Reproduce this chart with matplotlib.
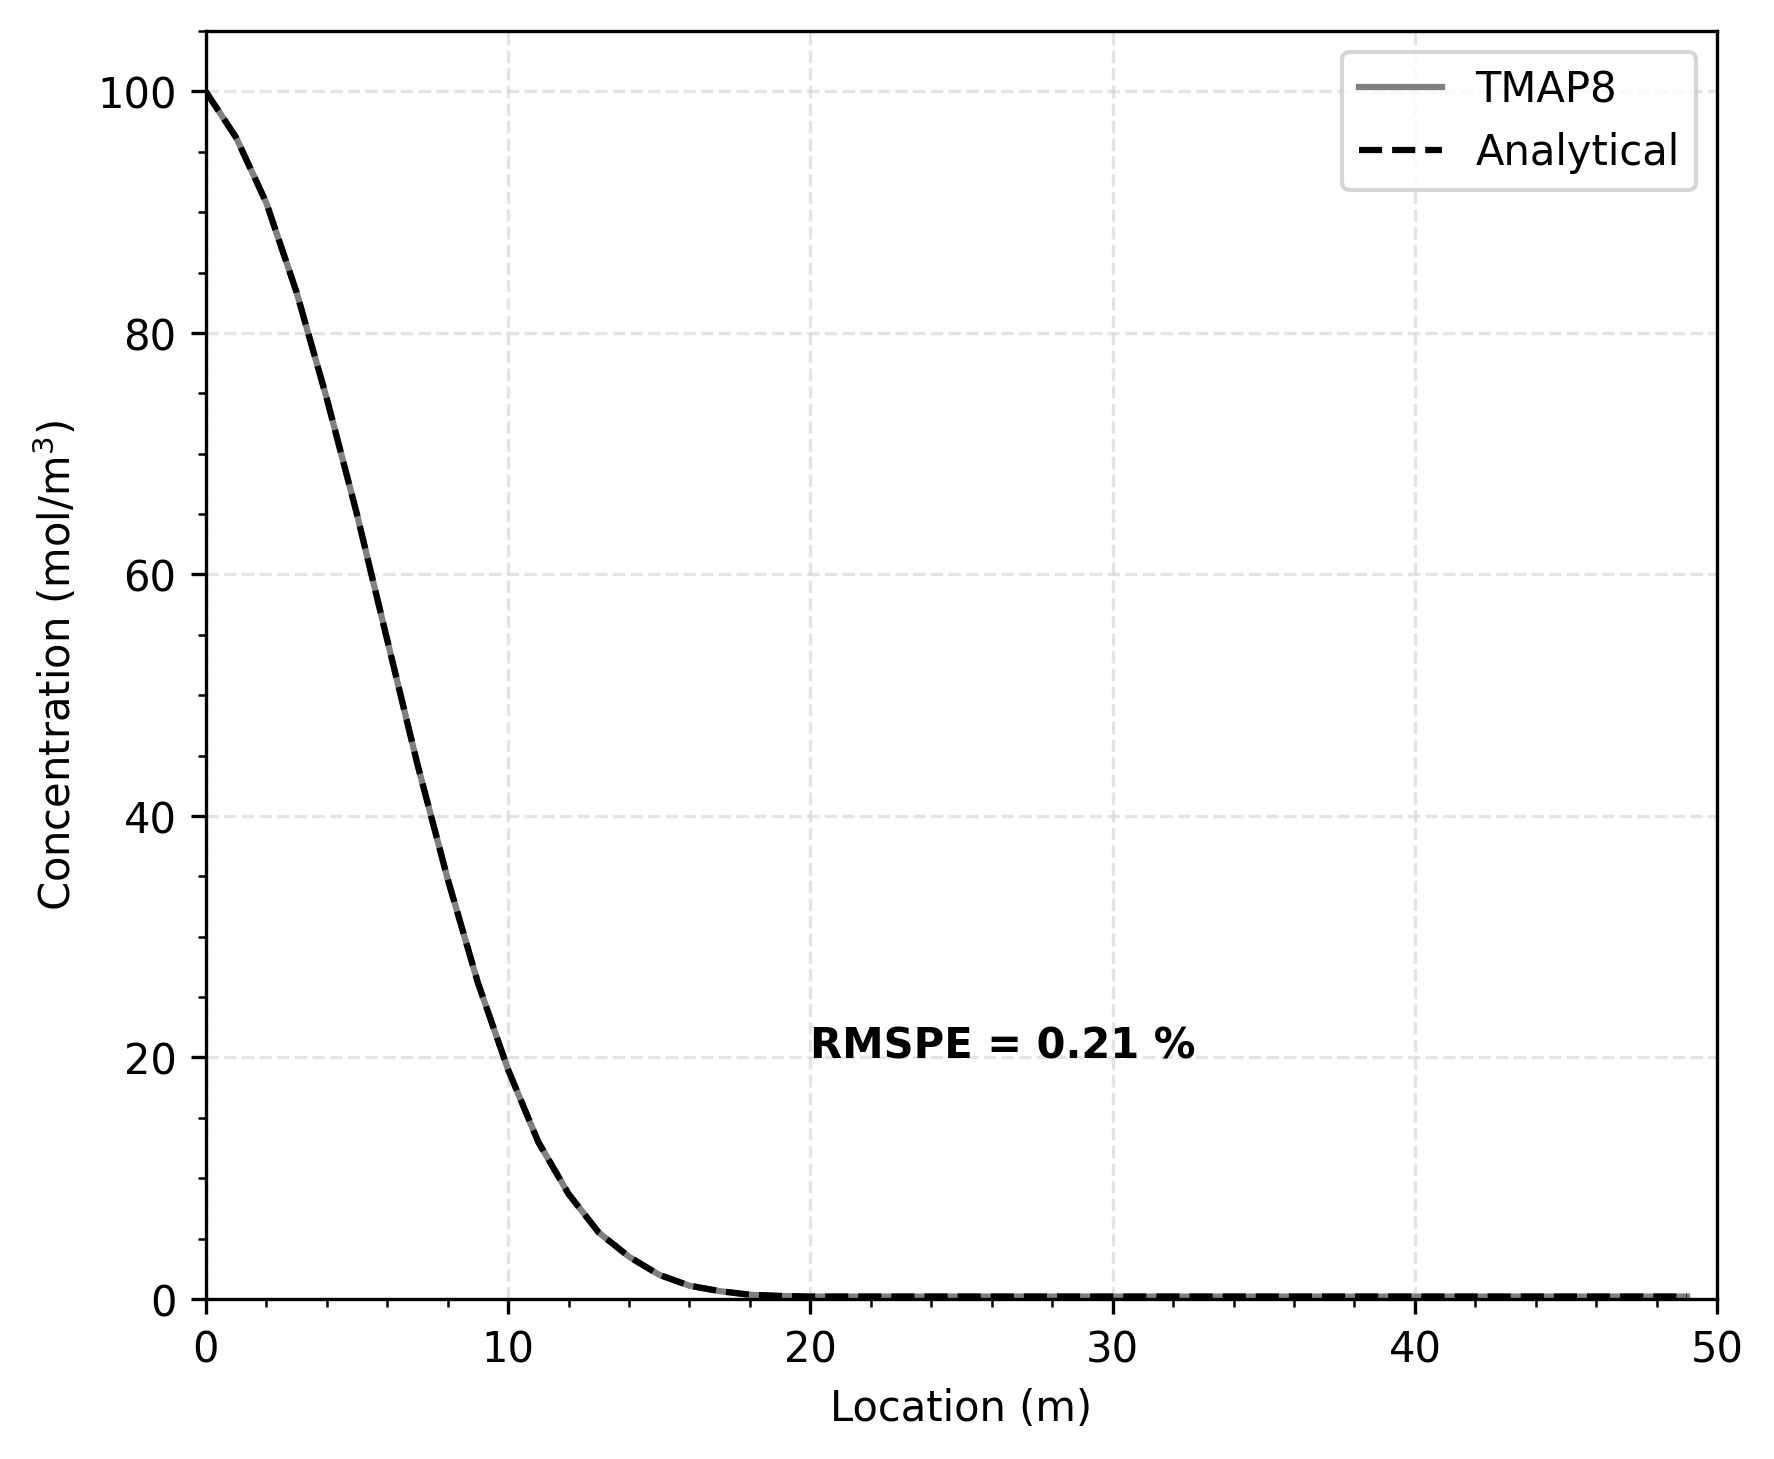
import matplotlib
matplotlib.use("Agg")
import matplotlib.pyplot as plt
from matplotlib.ticker import MultipleLocator

location = list(range(0, 50))
tmap8 = [100.0, 96.2, 90.8, 83.4, 74.6, 65.0, 54.6, 44.3, 34.8, 26.2,
         19.0, 13.0, 8.7, 5.5, 3.5, 2.0, 1.1, 0.65, 0.35, 0.25] + [0.2] * 30
analytical = [100.0, 96.2, 90.8, 83.4, 74.6, 65.0, 54.6, 44.3, 34.8, 26.2,
              19.0, 13.0, 8.7, 5.5, 3.5, 2.0, 1.1, 0.65, 0.35, 0.25] + [0.2] * 30
rmspe_text = "RMSPE = 0.21 %"

fig = plt.figure(figsize=(1774 / 300, 1460 / 300), dpi=300)
ax = fig.add_axes([0.116, 0.1096, 0.852, 0.8684])

ax.plot(location, tmap8, color="gray", linestyle="-", linewidth=1.5, label="TMAP8")
ax.plot(location, analytical, color="black", linestyle="--", linewidth=1.5, label="Analytical")

ax.set_xlim(0, 50)
ax.set_ylim(0, 105)
ax.xaxis.set_major_locator(MultipleLocator(10))
ax.xaxis.set_minor_locator(MultipleLocator(2))
ax.yaxis.set_major_locator(MultipleLocator(20))
ax.yaxis.set_minor_locator(MultipleLocator(5))
ax.tick_params(labelsize=10)
ax.set_xlabel("Location (m)", fontsize=10)
ax.set_ylabel("Concentration (mol/m$^3$)", fontsize=10)
ax.grid(which="major", color="lightgray", linestyle="--", alpha=0.6, linewidth=0.8)
ax.text(20, 20, rmspe_text, fontweight="bold", fontsize=10)
ax.legend(loc="upper right", fontsize=10)

fig.savefig("out.png", dpi=300)
